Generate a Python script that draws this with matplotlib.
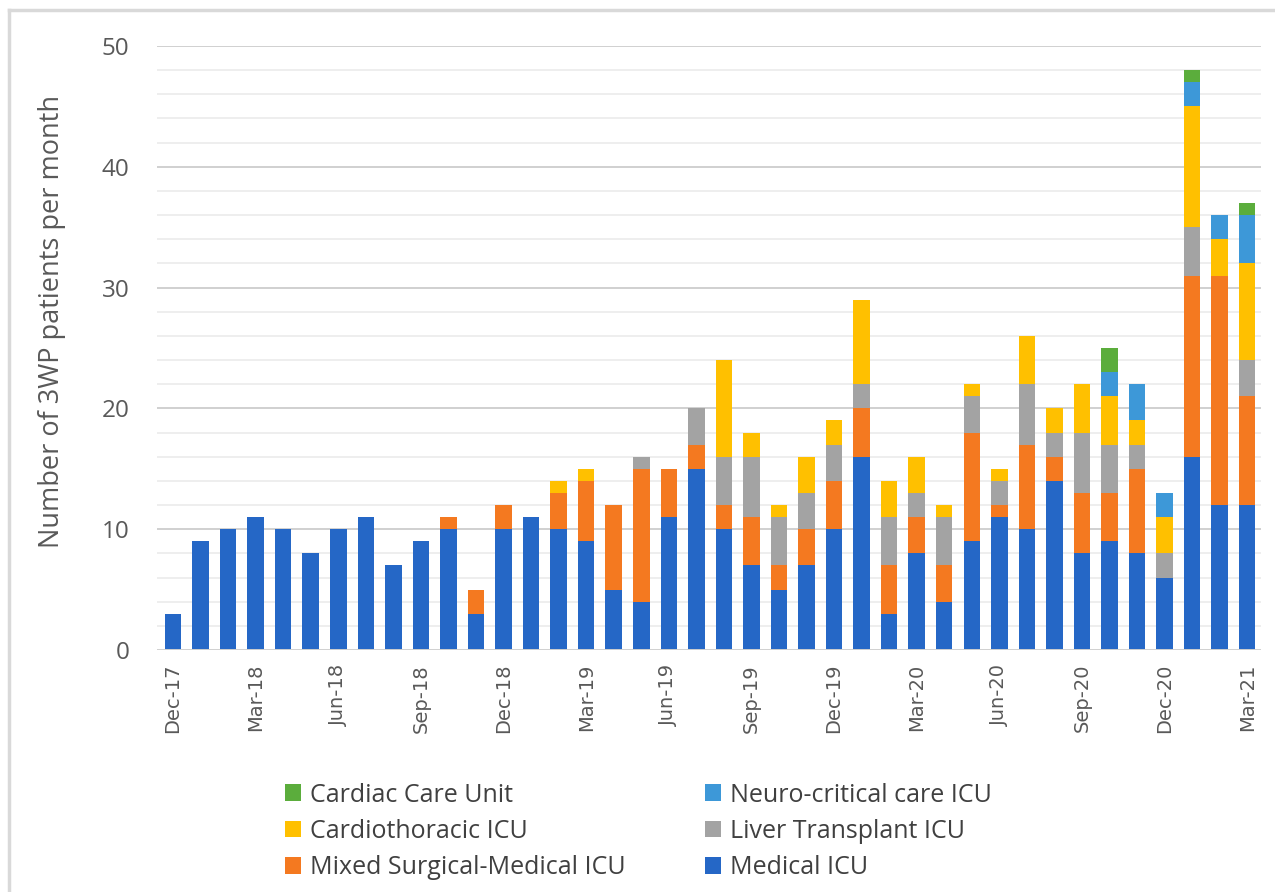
import matplotlib
matplotlib.use("Agg")
import matplotlib.pyplot as plt
from matplotlib.lines import Line2D
from matplotlib.patches import Patch
import numpy as np

months = ["Dec-17", "Jan-18", "Feb-18", "Mar-18", "Apr-18", "May-18", "Jun-18", "Jul-18",
          "Aug-18", "Sep-18", "Oct-18", "Nov-18", "Dec-18", "Jan-19", "Feb-19", "Mar-19",
          "Apr-19", "May-19", "Jun-19", "Jul-19", "Aug-19", "Sep-19", "Oct-19", "Nov-19",
          "Dec-19", "Jan-20", "Feb-20", "Mar-20", "Apr-20", "May-20", "Jun-20", "Jul-20",
          "Aug-20", "Sep-20", "Oct-20", "Nov-20", "Dec-20", "Jan-21", "Feb-21", "Mar-21"]

medical_icu = [3, 9, 10, 11, 10, 8, 10, 11, 7, 9, 10, 3, 10, 11, 10, 9, 5, 4, 11, 15,
               10, 7, 5, 7, 10, 16, 3, 8, 4, 9, 11, 10, 14, 8, 9, 8, 6, 16, 12, 12]
mixed_icu = [0, 0, 0, 0, 0, 0, 0, 0, 0, 0, 1, 2, 2, 0, 3, 5, 7, 11, 4, 2,
             2, 4, 2, 3, 4, 4, 4, 3, 3, 9, 1, 7, 2, 5, 4, 7, 0, 15, 19, 9]
liver_icu = [0, 0, 0, 0, 0, 0, 0, 0, 0, 0, 0, 0, 0, 0, 0, 0, 0, 1, 0, 3,
             4, 5, 4, 3, 3, 2, 4, 2, 4, 3, 2, 5, 2, 5, 4, 2, 2, 4, 0, 3]
cardiothoracic_icu = [0, 0, 0, 0, 0, 0, 0, 0, 0, 0, 0, 0, 0, 0, 1, 1, 0, 0, 0, 0,
                      8, 2, 1, 3, 2, 7, 3, 3, 1, 1, 1, 4, 2, 4, 4, 2, 3, 10, 3, 8]
neuro_icu = [0, 0, 0, 0, 0, 0, 0, 0, 0, 0, 0, 0, 0, 0, 0, 0, 0, 0, 0, 0,
             0, 0, 0, 0, 0, 0, 0, 0, 0, 0, 0, 0, 0, 0, 2, 3, 2, 2, 2, 4]
cardiac_care_unit = [0, 0, 0, 0, 0, 0, 0, 0, 0, 0, 0, 0, 0, 0, 0, 0, 0, 0, 0, 0,
                     0, 0, 0, 0, 0, 0, 0, 0, 0, 0, 0, 0, 0, 0, 2, 0, 0, 1, 0, 1]

series = [
    ("Medical ICU", medical_icu, "#2567C6"),
    ("Mixed Surgical-Medical ICU", mixed_icu, "#F47920"),
    ("Liver Transplant ICU", liver_icu, "#A3A3A3"),
    ("Cardiothoracic ICU", cardiothoracic_icu, "#FFC000"),
    ("Neuro-critical care ICU", neuro_icu, "#3D98D8"),
    ("Cardiac Care Unit", cardiac_care_unit, "#5BAD3C"),
]

W, H = 1275, 892
fig = plt.figure(figsize=(W / 100, H / 100), dpi=100)
ax = fig.add_axes([157 / W, 1 - 650 / H, (1261 - 157) / W, (650 - 46) / H])

x = np.arange(len(months))
bottom = np.zeros(len(months))
handles = {}
for name, vals, col in series:
    v = np.array(vals, dtype=float)
    ax.bar(x, v, bottom=bottom, width=0.6, color=col, zorder=3, linewidth=0)
    bottom += v
    handles[name] = Patch(facecolor=col, edgecolor="none")

ax.set_xlim(-0.58, len(months) - 0.5)
ax.set_ylim(0, 50)

# gridlines
for yv in range(2, 51, 2):
    if yv % 10 == 0:
        ax.axhline(yv, color="#D0D0D0", lw=1.4, zorder=1)
    else:
        ax.axhline(yv, color="#EBEBEB", lw=1.2, zorder=1)
ax.axhline(0, color="#D0D0D0", lw=1.4, zorder=4)

for s in ax.spines.values():
    s.set_visible(False)

ax.set_yticks(range(0, 51, 10))
ax.tick_params(axis="y", length=0, pad=20, labelsize=17.5, labelcolor="#595959")
for lab in ax.get_yticklabels():
    lab.set_family(["Open Sans", "DejaVu Sans"])

tick_pos = x[::3]
ax.set_xticks(tick_pos)
ax.set_xticklabels([months[i] for i in tick_pos], rotation=90, fontsize=14,
                   color="#595959", family="DejaVu Sans")
ax.tick_params(axis="x", length=0, pad=10)

ax.set_ylabel("Number of 3WP patients per month", fontsize=19.5, color="#595959",
              family=["Open Sans", "DejaVu Sans"])
ax.yaxis.set_label_coords(-(157 - 66) / (1261 - 157), (650 - 321) / (650 - 46))

order = ["Cardiac Care Unit", "Cardiothoracic ICU", "Mixed Surgical-Medical ICU",
         "Neuro-critical care ICU", "Liver Transplant ICU", "Medical ICU"]
leg = fig.legend([handles[n] for n in order], order, ncol=2,
                 loc="upper left", bbox_to_anchor=(262 / W, 1 - 760 / H),
                 frameon=False, handlelength=0.65, handleheight=0.65,
                 handletextpad=0.35, columnspacing=3.2, labelspacing=0.45,
                 prop={"family": ["Open Sans", "DejaVu Sans"], "size": 18})
for t in leg.get_texts():
    t.set_color("#404040")

# chart frame (left and top edges)
fig.add_artist(Line2D([9 / W, 9 / W], [0, 1 - 10 / H], transform=fig.transFigure,
                      color="#D9D9D9", lw=2.5))
fig.add_artist(Line2D([9 / W, 1], [1 - 10 / H, 1 - 10 / H], transform=fig.transFigure,
                      color="#D9D9D9", lw=2.5))

fig.savefig("out.png", dpi=100)
